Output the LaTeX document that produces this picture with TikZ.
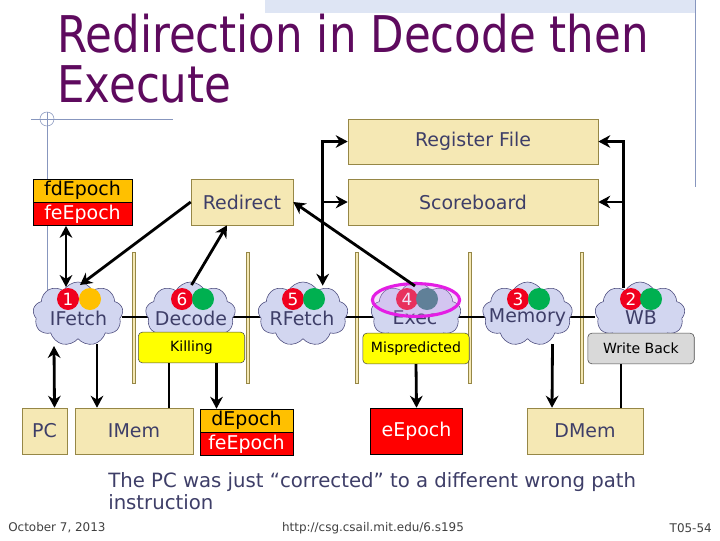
\documentclass[tikz,border=0pt]{standalone}
\usepackage{fontspec}
\setmainfont{DejaVu Sans}
\newfontfamily\titlefont[FakeStretch=0.86]{DejaVu Sans}
\usepackage{tikz}
\usetikzlibrary{arrows.meta,shapes.symbols,calc,positioning}

\definecolor{boxfill}{RGB}{245,232,180}
\definecolor{boxedge}{RGB}{150,135,70}
\definecolor{labtext}{RGB}{62,62,104}
\definecolor{cloudfill}{RGB}{210,214,240}
\definecolor{cloudedge}{RGB}{72,72,122}
\definecolor{epochorange}{RGB}{255,192,0}
\definecolor{epochred}{RGB}{255,0,0}
\definecolor{lampred}{RGB}{240,0,30}
\definecolor{lampgreen}{RGB}{0,176,80}
\definecolor{lampteal}{RGB}{45,115,115}
\definecolor{tagyellow}{RGB}{255,255,0}
\definecolor{taggray}{RGB}{217,217,217}
\definecolor{titlepurple}{RGB}{94,10,94}
\definecolor{decoline}{RGB}{135,150,190}
\definecolor{decoband}{RGB}{222,229,244}
\definecolor{hilite}{RGB}{228,30,228}
\definecolor{hilitefill}{RGB}{215,160,240}

\begin{document}
\begin{tikzpicture}[>={Stealth[length=8.5pt,width=9pt]},x=0.025cm,y=-0.025cm,
  box/.style={draw=boxedge,fill=boxfill,text=labtext,inner sep=0pt,font=\fontsize{13.5}{16}\selectfont},
  epochtop/.style={draw=black,fill=epochorange,text=black,inner sep=0pt,font=\fontsize{13.5}{16}\selectfont},
  epochbot/.style={draw=black,fill=epochred,text=white,inner sep=0pt,font=\fontsize{13.5}{16}\selectfont},
  stage/.style={cloud,cloud puffs=9,cloud puff arc=125,aspect=1.4,draw=cloudedge,fill=cloudfill,
    minimum width=2.25cm,minimum height=1.6cm,inner sep=0pt},
  stagename/.style={text=labtext,inner sep=0pt,font=\fontsize{13.5}{16}\selectfont},
  lamp/.style={circle,inner sep=0pt,minimum size=0.55cm,text=white,font=\fontsize{12}{14}\selectfont},
  tag/.style={draw=black!70,rounded corners=3pt,inner sep=0pt,minimum width=2.66cm,minimum height=0.77cm,
    font=\fontsize{10}{12}\selectfont},
  wire/.style={line width=2pt},
  sepbar/.style={draw=boxedge,fill=boxfill,line width=0.4pt},
  note/.style={text=labtext,inner sep=0pt,font=\fontsize{14}{21}\selectfont,align=left},
  foot/.style={text=black!75,inner sep=0pt,font=\fontsize{8.5}{10}\selectfont}]

  \fill[white] (0,0) rectangle (720,540);
  \useasboundingbox (0,0) rectangle (720,540);

  % slide decoration
  \fill[decoband] (265,0) rectangle (695,13);
  \draw[decoline] (695,0) -- (695,187);
  \draw[decoline] (31,119) -- (173,119);
  \draw[decoline] (47,112) -- (47,290);
  \draw[decoline] (47,119) circle [radius=0.175cm];

  % title
  \node[anchor=base west,inner sep=0pt,text=titlepurple,font=\titlefont\fontsize{36}{40}\selectfont]
    (title1) at (57,52) {Redirection in Decode then};
  \node[anchor=base west,inner sep=0pt,text=titlepurple,font=\titlefont\fontsize{36}{40}\selectfont]
    (title2) at (57,102) {Execute};

  % pipeline registers
  \draw[sepbar] (132.5,252) rectangle (135.5,383);
  \draw[sepbar] (246.5,252) rectangle (249.5,383);
  \draw[sepbar] (355.5,252) rectangle (358.5,383);
  \draw[sepbar] (468.5,252) rectangle (471.5,383);
  \draw[sepbar] (580.5,252) rectangle (583.5,383);

  \coordinate (pipel) at (122,317);
  \coordinate (piper) at (595,317);
  \draw[wire] (pipel) -- (piper);

  % stages
  \node[stage] (ifetch) at (78,314) {};
  \node[stage] (decode) at (190.5,314) {};
  \node[stage] (rfetch) at (303,314) {};
  \node[stage] (exec)   at (416,314) {};
  \node[stage] (memory) at (527.5,314) {};
  \node[stage] (wb)     at (640,314) {};

  \node[lamp,fill=lampred]     (ifetchn) at ($(ifetch.center)+(-10,-15)$) {1};
  \node[lamp,fill=epochorange] (ifetchs) at ($(ifetch.center)+(12,-15)$) {};
  \node[lamp,fill=lampred]     (decoden) at ($(decode.center)+(-8.5,-15)$) {6};
  \node[lamp,fill=lampgreen]   (decodes) at ($(decode.center)+(12.5,-15)$) {};
  \node[lamp,fill=lampred]     (rfetchn) at ($(rfetch.center)+(-10,-15)$) {5};
  \node[lamp,fill=lampgreen]   (rfetchs) at ($(rfetch.center)+(11,-15)$) {};
  \node[lamp,fill=lampred]     (execn)   at ($(exec.center)+(-9,-15)$) {4};
  \node[lamp,fill=lampteal]    (execs)   at ($(exec.center)+(11,-15)$) {};
  \node[lamp,fill=lampred]     (memoryn) at ($(memory.center)+(-9.5,-15)$) {3};
  \node[lamp,fill=lampgreen]   (memorys) at ($(memory.center)+(11.5,-15)$) {};
  \node[lamp,fill=lampred]     (wbn)     at ($(wb.center)+(-9,-15)$) {2};
  \node[lamp,fill=lampgreen]   (wbs)     at ($(wb.center)+(11,-15)$) {};

  \node[stagename] (ifetchl) at ($(ifetch.center)+(0.5,4)$) {IFetch};
  \node[stagename] (decodel) at ($(decode.center)+(0.5,4)$) {Decode};
  \node[stagename] (rfetchl) at ($(rfetch.center)+(-1,4)$) {RFetch};
  \node[stagename] (execl)   at ($(exec.center)+(-1,4)$) {Exec};
  \node[stagename] (memoryl) at ($(memory.center)+(0,4)$) {Memory};
  \node[stagename] (wbl)     at ($(wb.center)+(1,4)$) {WB};

  \draw[hilite,line width=2.2pt,fill=hilitefill,fill opacity=0.3]
    ($(exec.center)+(0,-14)$) ellipse [x radius=1.09cm,y radius=0.41cm];

  % state
  \node[box,minimum width=6.25cm,minimum height=1.125cm] (regfile) at (473,141.5) {Register File};
  \node[box,minimum width=6.25cm,minimum height=1.15cm] (scoreboard) at (473,202) {Scoreboard};
  \node[box,minimum width=2.55cm,minimum height=1.15cm] (redirect) at (242,202) {Redirect};
  \node[epochtop,minimum width=2.475cm,minimum height=0.575cm] (fd) at (82.5,190.5) {fdEpoch};
  \node[epochbot,minimum width=2.475cm,minimum height=0.575cm] (fe) [below=0pt of fd] {feEpoch};

  \node[box,minimum width=1.125cm,minimum height=1.15cm] (pc) at (44.5,431) {PC};
  \node[box,minimum width=2.95cm,minimum height=1.15cm] (imem) at (134,431) {IMem};
  \node[epochtop,minimum width=2.325cm,minimum height=0.575cm] (de) at (246.5,420.5) {dEpoch};
  \node[epochbot,minimum width=2.325cm,minimum height=0.575cm] (fe2) [below=0pt of de] {feEpoch};
  \node[epochbot,minimum width=2.3cm,minimum height=1.15cm] (eepoch) at (416.5,431) {eEpoch};
  \node[box,minimum width=2.9cm,minimum height=1.15cm] (dmem) at (585,431) {DMem};

  \node[tag,fill=tagyellow] (killing) at (191.5,347.5) {Killing};
  \node[tag,fill=tagyellow] (mispred) at (416,348.5) {Mispredicted};
  \node[tag,fill=taggray]   (wback)   at (641,348.5) {Write Back};

  % connections
  \coordinate (rfsplit) at ($(regfile.west)+(-25,0)$);
  \coordinate (wbsplit) at ($(regfile.east)+(25,0)$);
  \draw[wire,<->] ($(fe.south)+(-16.5,0)$) -- ($(ifetch.center)+(-12,-27)$);
  \draw[wire,->] (redirect.west) -- ($(ifetch.center)+(2,-29)$);
  \draw[wire,->] ($(decode.center)+(1,-29)$) -- ($(redirect.south)+(-15,0)$);
  \draw[wire,->] ($(exec.center)+(-1,-28)$) -- (redirect.east);
  \draw[wire,<->] ($(rfsplit |- rfetch.north)+(0,4)$) -- (rfsplit) -- (regfile.west);
  \draw[wire,->] (rfsplit |- scoreboard.west) -- (scoreboard.west);
  \draw[wire,->] ($(wbsplit |- wb.north)+(0,6)$) -- (wbsplit) -- (regfile.east);
  \draw[wire,->] (wbsplit |- scoreboard.east) -- (scoreboard.east);
  \draw[wire,<->] ($(ifetch.center)+(-24,32)$) -- ($(pc.north)+(10,0)$);
  \draw[wire,->] ($(ifetch.center)+(19,30)$) -- ($(imem.north)+(-37,0)$);
  \draw[wire] ($(killing.south)+(-22.5,0)$) -- ($(imem.north)+(35,0)$);
  \draw[wire,->] ($(killing.south)+(25,0)$) -- ($(de.north)+(-30,0)$);
  \draw[wire,->] (mispred.south) -- (eepoch.north);
  \draw[wire,->] ($(memory.center)+(25,30)$) -- ($(dmem.north)+(-33,0)$);
  \draw[wire] ($(wback.south)+(-20,0)$) -- ($(dmem.north)+(36,0)$);

  % text
  \node[note,anchor=base west] (note1) at (108,487) {The PC was just “corrected” to a different wrong path};
  \node[note,anchor=base west] (note2) at (108,509) {instruction};
  \node[foot,anchor=west] (date) at (8,528) {October 7, 2013};
  \node[foot] (url) at (373,528) {http://csg.csail.mit.edu/6.s195};
  \node[foot,anchor=east] (slide) at (712,528) {T05-54};
\end{tikzpicture}
\end{document}
